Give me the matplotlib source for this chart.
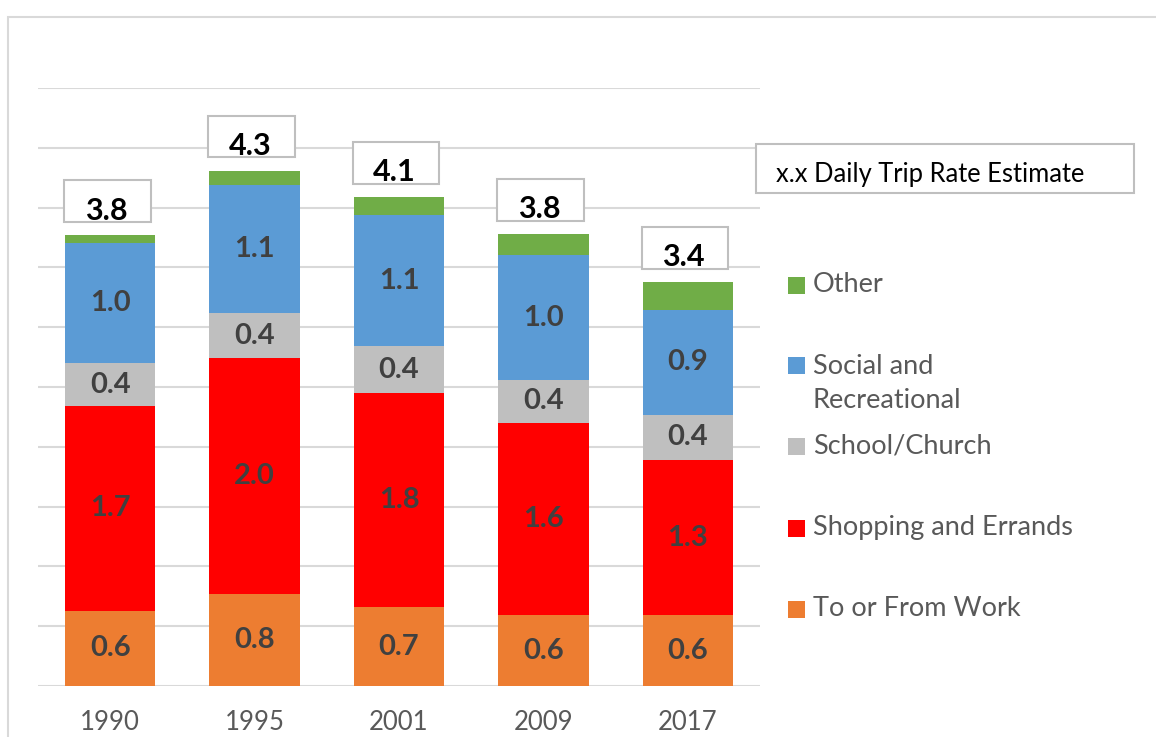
import matplotlib.pyplot as plt
from matplotlib.patches import Rectangle
import numpy as np

years = ['1990', '1995', '2001', '2009', '2017']
work = [0.63, 0.77, 0.66, 0.59, 0.59]
shopping = [1.71, 1.97, 1.79, 1.61, 1.30]
school = [0.36, 0.38, 0.39, 0.36, 0.38]
social = [1.00, 1.07, 1.10, 1.04, 0.87]
other = [0.07, 0.12, 0.15, 0.18, 0.24]

series = [work, shopping, school, social, other]
names = ['To or From Work', 'Shopping and Errands', 'School/Church',
         'Social and\nRecreational', 'Other']
colors = ['#ED7D31', '#FF0000', '#BFBFBF', '#5B9BD5', '#70AD47']

plt.rcParams['font.family'] = ['Lato', 'DejaVu Sans']

W, H = 1156, 737
fig = plt.figure(figsize=(W / 100, H / 100), dpi=100)
ax = fig.add_axes([38 / W, 51 / H, 722 / W, 598 / H])

x = np.arange(len(years))
bottom = np.zeros(len(years))
for vals, c in zip(series, colors):
    bars = ax.bar(x, vals, 0.625, bottom=bottom, color=c, zorder=2)
    if c != '#70AD47':
        ax.bar_label(bars, labels=['%.1f' % v for v in vals], label_type='center',
                     fontsize=21, fontweight='bold', color='#404040')
    bottom += np.array(vals)

# total boxes
for i, t in enumerate(bottom):
    y0 = t + 0.11
    ax.add_patch(Rectangle((i - 0.32, y0), 0.6, 0.35, facecolor='white',
                           edgecolor='#BFBFBF', lw=1.5, zorder=3))
    ax.text(i - 0.03, y0 + 0.02, '%.1f' % t, ha='center', va='baseline',
            fontsize=22, fontweight='bold', color='black', zorder=4)

ax.set_xlim(-0.5, 4.5)
ax.set_ylim(0, 5.0)
ax.set_yticks(np.arange(0, 5.01, 0.5))
ax.set_yticklabels([])
ax.grid(axis='y', color='#D9D9D9', lw=1.5, zorder=0)
ax.tick_params(length=0, pad=17)
ax.set_xticks(x)
ax.set_xticklabels(years, fontsize=18.5, color='#595959')
for s in ax.spines.values():
    s.set_visible(False)

# outer frame
fig.patches.append(Rectangle((8 / W, -0.1), 1.2, (H - 17) / H + 0.1, transform=fig.transFigure,
                             fill=False, edgecolor='#D9D9D9', lw=1.5))

# estimate key box
fig.patches.append(Rectangle((756 / W, (H - 193) / H), 378 / W, 49 / H, transform=fig.transFigure,
                             facecolor='white', edgecolor='#BFBFBF', lw=1.5))
fig.text(776 / W, (H - 182) / H, 'x.x Daily Trip Rate Estimate', fontsize=18.4,
         color='black', va='baseline')

# legend
ys = [609, 528, 446, 383, 285]
for name, c, yy in zip(names, colors, ys):
    my = yy if '\n' not in name else 365
    fig.patches.append(Rectangle((788 / W, (H - my - 8.5) / H), 17 / W, 17 / H,
                                 transform=fig.transFigure, facecolor=c, edgecolor='none'))
    fig.text(813 / W, (H - yy) / H, name, fontsize=19.5, color='#595959', va='center',
             linespacing=1.45)

fig.savefig('out.png', dpi=100)
